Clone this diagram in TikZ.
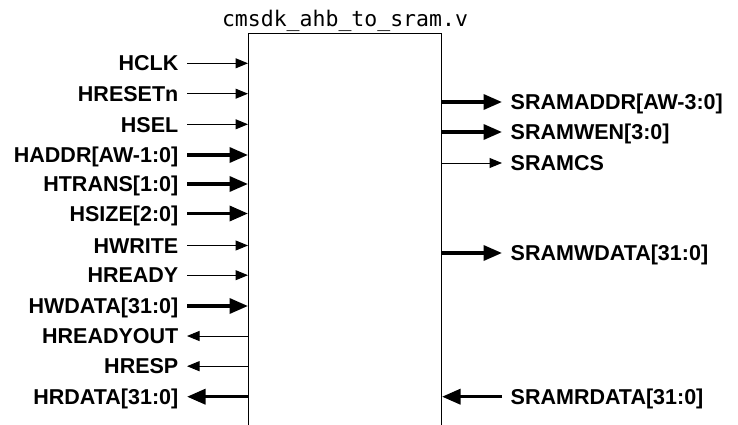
\documentclass[tikz,border=0pt]{standalone}
\usepackage{fontspec}
\setsansfont{Liberation Sans}
\setmonofont{DejaVu Sans Mono}
\usetikzlibrary{arrows.meta}
\tikzset{
	sig/.style={font=\sffamily\bfseries\fontsize{21.5}{25}\selectfont, inner xsep=8.5pt, inner ysep=0pt, text height=15.4pt, text depth=0pt},
	sigin/.style={sig, anchor=east},
	sigout/.style={sig, anchor=west},
	thinarr/.style={line width=1pt, -{Triangle[length=12.5pt,width=10pt]}},
	thickarr/.style={line width=3.5pt, -{Triangle[length=18.5pt,width=15pt]}}
}

\begin{document}
\begin{tikzpicture}[x=1pt, y=-1pt]
		\useasboundingbox (0,0) rectangle (738,425);
		\node[draw, line width=1pt, minimum width=193pt, minimum height=430pt, anchor=north west, inner sep=0pt] (block) at (248,33) {};
		\node[font=\ttfamily\fontsize{21.5}{25}\selectfont, anchor=base, inner sep=0pt] (modname) at (345,26.7) {cmsdk\_ahb\_to\_sram.v};
		% left side
		\node[sigin] (hclk) at (187,63.3) {HCLK};
		\node[sigin] (hresetn) at (187,93.7) {HRESETn};
		\node[sigin] (hsel) at (187,124.3) {HSEL};
		\node[sigin] (haddr) at (187,155) {HADDR[AW-1:0]};
		\node[sigin] (htrans) at (187,184) {HTRANS[1:0]};
		\node[sigin] (hsize) at (187,213.5) {HSIZE[2:0]};
		\node[sigin] (hwrite) at (187,245.5) {HWRITE};
		\node[sigin] (hready) at (187,275.2) {HREADY};
		\node[sigin] (hwdata) at (187,306) {HWDATA[31:0]};
		\node[sigin] (hreadyout) at (187,336) {HREADYOUT};
		\node[sigin] (hresp) at (187,366.2) {HRESP};
		\node[sigin] (hrdata) at (187,396.7) {HRDATA[31:0]};
		\draw[thinarr] (hclk.east) -- (hclk.east -| block.west);
		\draw[thinarr] (hresetn.east) -- (hresetn.east -| block.west);
		\draw[thinarr] (hsel.east) -- (hsel.east -| block.west);
		\draw[thickarr] (haddr.east) -- (haddr.east -| block.west);
		\draw[thickarr] (htrans.east) -- (htrans.east -| block.west);
		\draw[thickarr] (hsize.east) -- (hsize.east -| block.west);
		\draw[thinarr] (hwrite.east) -- (hwrite.east -| block.west);
		\draw[thinarr] (hready.east) -- (hready.east -| block.west);
		\draw[thickarr] (hwdata.east) -- (hwdata.east -| block.west);
		\draw[thinarr] (hreadyout.east -| block.west) -- (hreadyout.east);
		\draw[thinarr] (hresp.east -| block.west) -- (hresp.east);
		\draw[thickarr] (hrdata.east -| block.west) -- (hrdata.east);
		% right side
		\node[sigout] (sramaddr) at (502,102) {SRAMADDR[AW-3:0]};
		\node[sigout] (sramwen) at (502,132) {SRAMWEN[3:0]};
		\node[sigout] (sramcs) at (502,163) {SRAMCS};
		\node[sigout] (sramwdata) at (502,253) {SRAMWDATA[31:0]};
		\node[sigout] (sramrdata) at (502,396.7) {SRAMRDATA[31:0]};
		\draw[thickarr] (sramaddr.west -| block.east) -- (sramaddr.west);
		\draw[thickarr] (sramwen.west -| block.east) -- (sramwen.west);
		\draw[thinarr] (sramcs.west -| block.east) -- (sramcs.west);
		\draw[thickarr] (sramwdata.west -| block.east) -- (sramwdata.west);
		\draw[thickarr] (sramrdata.west) -- (sramrdata.west -| block.east);
\end{tikzpicture}
\end{document}
